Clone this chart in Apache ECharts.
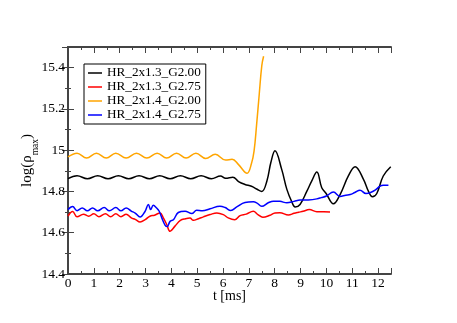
<!DOCTYPE html>
<html>
<head>
<meta charset="utf-8">
<script src="https://cdn.jsdelivr.net/npm/echarts/dist/echarts.min.js"></script>
<style>
  html, body { margin: 0; padding: 0; background: #fff; }
  #chart { width: 457px; height: 323px; }
</style>
</head>
<body>
<div id="chart"></div>
<script>
// t [ms], log(rho_max)
const names = ['HR_2x1.3_G2.00', 'HR_2x1.3_G2.75', 'HR_2x1.4_G2.00', 'HR_2x1.4_G2.75'];
const colors = ['#000000', '#ff0000', '#ffa500', '#0000ff'];

const black = [
  [0, 14.862], [0.35, 14.876], [0.75, 14.862], [1.15, 14.876], [1.55, 14.862], [1.95, 14.876],
  [2.35, 14.862], [2.75, 14.876], [3.15, 14.862], [3.55, 14.876], [3.95, 14.862], [4.35, 14.876],
  [4.75, 14.862], [5.15, 14.876], [5.55, 14.862], [5.9, 14.875], [6.1, 14.864], [6.38, 14.869],
  [6.6, 14.848], [6.85, 14.834], [7.1, 14.825], [7.3, 14.812], [7.5, 14.8], [7.7, 14.852],
  [7.85, 14.94], [8.01, 14.997], [8.27, 14.907], [8.47, 14.81], [8.66, 14.75], [8.79, 14.725],
  [8.98, 14.737], [9.24, 14.8], [9.43, 14.85], [9.63, 14.894], [9.82, 14.818], [9.99, 14.79],
  [10.27, 14.74], [10.53, 14.785], [10.85, 14.875], [11.11, 14.92], [11.43, 14.86], [11.63, 14.8],
  [11.78, 14.774], [11.95, 14.79], [12.2, 14.875], [12.49, 14.92]
];

const red = [
  [0, 14.68], [0.18, 14.703], [0.35, 14.677], [0.6, 14.69], [0.8, 14.68], [1.0, 14.692],
  [1.2, 14.678], [1.45, 14.692], [1.65, 14.678], [1.85, 14.692], [2.05, 14.678], [2.25, 14.69],
  [2.45, 14.672], [2.6, 14.665], [2.79, 14.652], [3.0, 14.665], [3.17, 14.68], [3.35, 14.685],
  [3.56, 14.696], [3.69, 14.672], [3.82, 14.64], [3.95, 14.607], [4.14, 14.632], [4.35, 14.66],
  [4.55, 14.668], [4.72, 14.671], [4.85, 14.66], [5.05, 14.668], [5.24, 14.677], [5.5, 14.688],
  [5.76, 14.696], [6.01, 14.688], [6.2, 14.672], [6.45, 14.663], [6.66, 14.683], [6.9, 14.69],
  [7.17, 14.704], [7.35, 14.688], [7.54, 14.675], [7.82, 14.685], [8.01, 14.696], [8.2, 14.697],
  [8.53, 14.686], [8.75, 14.694], [8.92, 14.699], [9.1, 14.704], [9.34, 14.712], [9.63, 14.702],
  [9.9, 14.702], [10.14, 14.701]
];

const orange = [
  [0, 14.967], [0.35, 14.985], [0.72, 14.962], [1.1, 14.985], [1.48, 14.962], [1.85, 14.985],
  [2.25, 14.962], [2.65, 14.985], [3.05, 14.962], [3.45, 14.985], [3.82, 14.962], [4.2, 14.985],
  [4.57, 14.962], [4.95, 14.985], [5.33, 14.96], [5.7, 14.98], [6.1, 14.952], [6.35, 14.956],
  [6.6, 14.93], [6.93, 14.888], [7.1, 14.935], [7.2, 14.995], [7.3, 15.125], [7.4, 15.27],
  [7.5, 15.41], [7.57, 15.455]
];

const blue = [
  [0, 14.712], [0.18, 14.727], [0.35, 14.707], [0.55, 14.72], [0.75, 14.706], [0.95, 14.72],
  [1.15, 14.706], [1.4, 14.722], [1.6, 14.706], [1.85, 14.722], [2.05, 14.706], [2.25, 14.72],
  [2.45, 14.705], [2.6, 14.695], [2.79, 14.676], [2.98, 14.703], [3.11, 14.737], [3.2, 14.712],
  [3.3, 14.733], [3.43, 14.72], [3.53, 14.704], [3.63, 14.672], [3.76, 14.636], [3.84, 14.63],
  [3.95, 14.655], [4.08, 14.663], [4.27, 14.698], [4.53, 14.704], [4.79, 14.693], [4.98, 14.709],
  [5.2, 14.706], [5.5, 14.716], [5.88, 14.728], [6.08, 14.722], [6.3, 14.708], [6.53, 14.725],
  [6.85, 14.747], [7.17, 14.75], [7.3, 14.745], [7.5, 14.728], [7.75, 14.745], [7.95, 14.753],
  [8.2, 14.752], [8.47, 14.745], [8.75, 14.752], [8.98, 14.758], [9.3, 14.759], [9.63, 14.764],
  [9.8, 14.77], [10.0, 14.778], [10.27, 14.797], [10.53, 14.776], [10.75, 14.782], [10.92, 14.785],
  [11.1, 14.795], [11.3, 14.806], [11.53, 14.79], [11.75, 14.797], [11.9, 14.808], [12.08, 14.826],
  [12.2, 14.83], [12.4, 14.83]
];

const seriesData = [black, red, orange, blue];

const font = 'Liberation Serif';
const axisCol = '#444';

function xAxis(pos, labels) {
  return {
    type: 'value', position: pos, min: 0, max: 12.5, interval: 1,
    axisLine: { lineStyle: { color: axisCol, width: 2 } },
    axisTick: { inside: true, length: 6, lineStyle: { color: axisCol } },
    minorTick: { show: true, splitNumber: 2, length: 3, lineStyle: { color: axisCol } },
    splitLine: { show: false },
    axisLabel: { show: labels, margin: 2, showMaxLabel: false, color: '#000', fontFamily: font, fontSize: 13.5 }
  };
}

function yAxis(pos, labels) {
  return {
    type: 'value', position: pos, min: 14.4, max: 15.5, interval: 0.2,
    axisLine: { lineStyle: { color: axisCol, width: 2 } },
    axisTick: { inside: true, length: 6, lineStyle: { color: axisCol } },
    minorTick: { show: true, splitNumber: 2, length: 3, lineStyle: { color: axisCol } },
    splitLine: { show: false },
    axisLabel: { show: labels, margin: 3, showMaxLabel: false, color: '#000', fontFamily: font, fontSize: 13.5 }
  };
}

const xs = [xAxis('bottom', true), xAxis('top', false)];
xs[0].name = 't [ms]';
xs[0].nameLocation = 'middle';
xs[0].nameGap = 15;
xs[0].nameMoveOverlap = false;
xs[0].nameTextStyle = { color: '#000', fontFamily: font, fontSize: 14 };

const ys = [yAxis('left', true), yAxis('right', false)];
ys[0].name = '{a|log(ρ}{b|max}{a|)}';
ys[0].nameLocation = 'middle';
ys[0].nameGap = 28;
ys[0].nameMoveOverlap = false;
ys[0].nameTextStyle = {
  color: '#000', fontFamily: font,
  rich: {
    a: { fontFamily: font, fontSize: 15, color: '#000', lineHeight: 20, verticalAlign: 'top' },
    b: { fontFamily: font, fontSize: 9.5, color: '#000', lineHeight: 20, verticalAlign: 'bottom' }
  }
};

const chart = echarts.init(document.getElementById('chart'));
chart.setOption({
  animation: false,
  backgroundColor: '#fff',
  grid: { left: 68, right: 66, top: 47, bottom: 49 },
  legend: {
    orient: 'vertical', left: 84, top: 64,
    data: names,
    icon: 'path://M0,0L14,0L14,1.5L0,1.5Z',
    borderColor: '#000', borderWidth: 1,
    padding: [2, 5, 2, 4],
    itemWidth: 14, itemHeight: 1.5, itemGap: 0,
    textStyle: { fontFamily: font, fontSize: 13.2, lineHeight: 14, color: '#000' }
  },
  xAxis: xs,
  yAxis: ys,
  series: seriesData.map((d, i) => ({
    name: names[i],
    type: 'line',
    data: d,
    xAxisIndex: 0, yAxisIndex: 0,
    symbol: 'none',
    smooth: 0.4,
    color: colors[i],
    lineStyle: { color: colors[i], width: 1.5 }
  }))
});
</script>
</body>
</html>
